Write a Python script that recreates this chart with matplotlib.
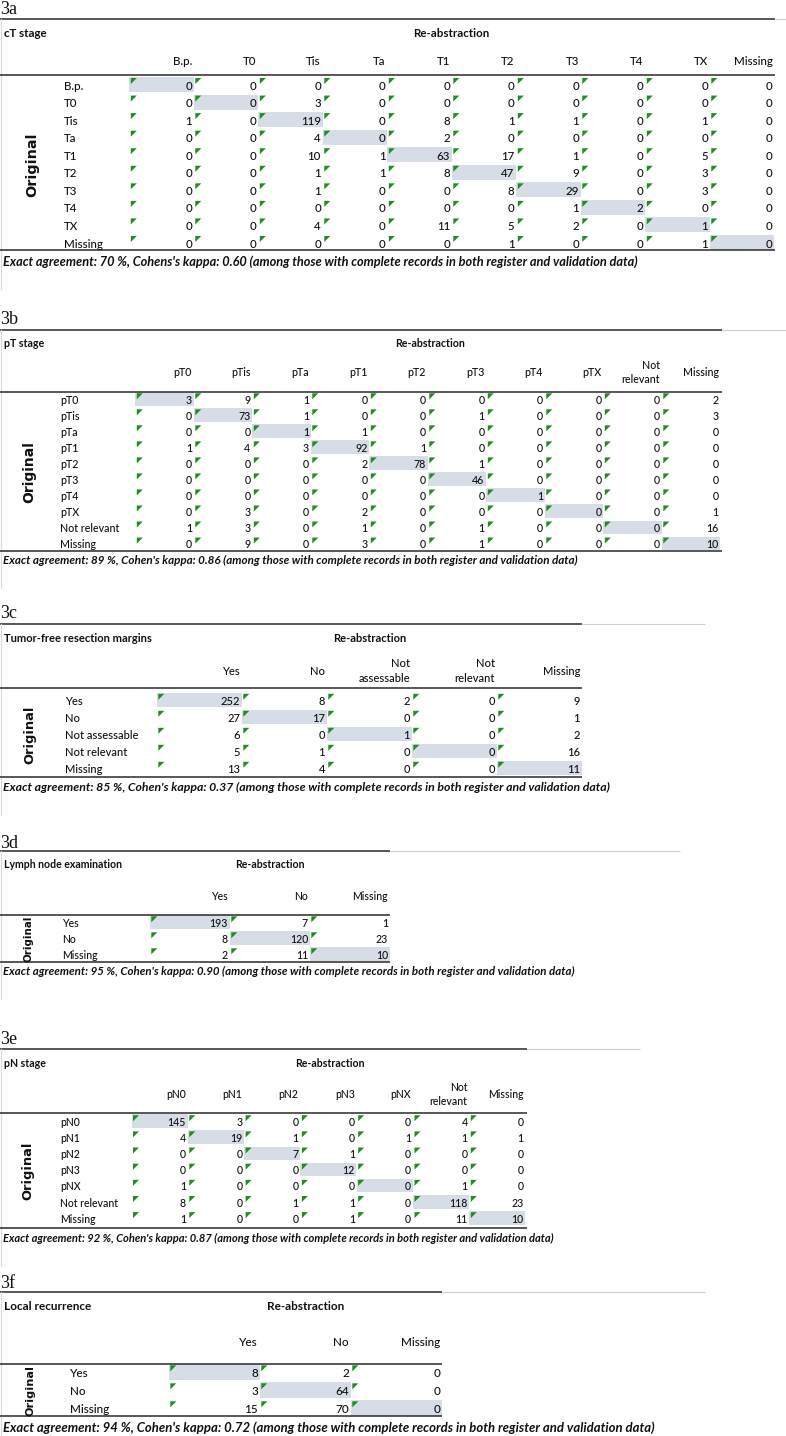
import matplotlib
matplotlib.use('Agg')
import matplotlib.pyplot as plt
from matplotlib.patches import Rectangle, Polygon

BODY = ['Lato', 'DejaVu Sans']
NOTE_FONT = ['Liberation Sans Narrow', 'Lato', 'DejaVu Sans']
SERIF = ['Liberation Serif', 'DejaVu Serif']
HILITE = '#d6dde6'
TRI = '#218c21'
INK = '#111111'
RULE = '#2a2a2a'

# ---- data: 3a cT stage
ct_cols = ['B.p.', 'T0', 'Tis', 'Ta', 'T1', 'T2', 'T3', 'T4', 'TX', 'Missing']
ct_rows = ['B.p.', 'T0', 'Tis', 'Ta', 'T1', 'T2', 'T3', 'T4', 'TX', 'Missing']
ct_vals = [
    [0, 0, 0, 0, 0, 0, 0, 0, 0, 0],
    [0, 0, 3, 0, 0, 0, 0, 0, 0, 0],
    [1, 0, 119, 0, 8, 1, 1, 0, 1, 0],
    [0, 0, 4, 0, 2, 0, 0, 0, 0, 0],
    [0, 0, 10, 1, 63, 17, 1, 0, 5, 0],
    [0, 0, 1, 1, 8, 47, 9, 0, 3, 0],
    [0, 0, 1, 0, 0, 8, 29, 0, 3, 0],
    [0, 0, 0, 0, 0, 0, 1, 2, 0, 0],
    [0, 0, 4, 0, 11, 5, 2, 0, 1, 0],
    [0, 0, 0, 0, 0, 1, 0, 0, 1, 0],
]
ct_note = "Exact agreement: 70 %, Cohens's kappa: 0.60 (among those with complete records in both register and validation data)"

# ---- 3b pT stage
pt_cols = ['pT0', 'pTis', 'pTa', 'pT1', 'pT2', 'pT3', 'pT4', 'pTX', 'Not\nrelevant', 'Missing']
pt_rows = ['pT0', 'pTis', 'pTa', 'pT1', 'pT2', 'pT3', 'pT4', 'pTX', 'Not relevant', 'Missing']
pt_vals = [
    [3, 9, 1, 0, 0, 0, 0, 0, 0, 2],
    [0, 73, 1, 0, 0, 1, 0, 0, 0, 3],
    [0, 0, 1, 1, 0, 0, 0, 0, 0, 0],
    [1, 4, 3, 92, 1, 0, 0, 0, 0, 0],
    [0, 0, 0, 2, 78, 1, 0, 0, 0, 0],
    [0, 0, 0, 0, 0, 46, 0, 0, 0, 0],
    [0, 0, 0, 0, 0, 0, 1, 0, 0, 0],
    [0, 3, 0, 2, 0, 0, 0, 0, 0, 1],
    [1, 3, 0, 1, 0, 1, 0, 0, 0, 16],
    [0, 9, 0, 3, 0, 1, 0, 0, 0, 10],
]
pt_note = "Exact agreement: 89 %, Cohen's kappa: 0.86 (among those with complete records in both register and validation data)"

# ---- 3c resection margins
rm_cols = ['Yes', 'No', 'Not\nassessable', 'Not\nrelevant', 'Missing']
rm_rows = ['Yes', 'No', 'Not assessable', 'Not relevant', 'Missing']
rm_vals = [
    [252, 8, 2, 0, 9],
    [27, 17, 0, 0, 1],
    [6, 0, 1, 0, 2],
    [5, 1, 0, 0, 16],
    [13, 4, 0, 0, 11],
]
rm_note = "Exact agreement: 85 %, Cohen's kappa: 0.37 (among those with complete records in both register and validation data)"

# ---- 3d lymph node examination
ln_cols = ['Yes', 'No', 'Missing']
ln_rows = ['Yes', 'No', 'Missing']
ln_vals = [
    [193, 7, 1],
    [8, 120, 23],
    [2, 11, 10],
]
ln_note = "Exact agreement: 95 %, Cohen's kappa: 0.90 (among those with complete records in both register and validation data)"

# ---- 3e pN stage
pn_cols = ['pN0', 'pN1', 'pN2', 'pN3', 'pNX', 'Not\nrelevant', 'Missing']
pn_rows = ['pN0', 'pN1', 'pN2', 'pN3', 'pNX', 'Not relevant', 'Missing']
pn_vals = [
    [145, 3, 0, 0, 0, 4, 0],
    [4, 19, 1, 0, 1, 1, 1],
    [0, 0, 7, 1, 0, 0, 0],
    [0, 0, 0, 12, 0, 0, 0],
    [1, 0, 0, 0, 0, 1, 0],
    [8, 0, 1, 1, 0, 118, 23],
    [1, 0, 0, 1, 0, 11, 10],
]
pn_note = "Exact agreement: 92 %, Cohen's kappa: 0.87 (among those with complete records in both register and validation data)"

# ---- 3f local recurrence
lr_cols = ['Yes', 'No', 'Missing']
lr_rows = ['Yes', 'No', 'Missing']
lr_vals = [
    [8, 2, 0],
    [3, 64, 0],
    [15, 70, 0],
]
lr_note = "Exact agreement: 94 %, Cohen's kappa: 0.72 (among those with complete records in both register and validation data)"

# layout of each panel in pixels (y grows downwards)
layouts = {
    '3a': dict(tag_y=10, top=18.5, title=33, reab_x=413, head=61, hline=74.5, row0=85.5, step=17.55,
               bottom=250, foot=261, col0=192, cstep=64.5, lab_x=64, orig_x=32, orig_len=64,
               dark_end=775, grey_end=786, fs=8.3, foot_w=637),
    '3b': dict(tag_y=320, top=330, title=343, reab_x=395, head=372, hline=391.5, row0=400, step=16.03,
               bottom=551, foot=560, col0=192, cstep=58.5, lab_x=60, orig_x=29, orig_len=62,
               dark_end=722, grey_end=786, fs=7.7, foot_w=578),
    '3c': dict(tag_y=614, top=624, title=638, reab_x=333, head=671, hline=688, row0=701, step=17,
               bottom=777, foot=787, col0=240, cstep=85, lab_x=65, orig_x=30, orig_len=58,
               dark_end=582, grey_end=705, fs=8.0, foot_w=604),
    '3d': dict(tag_y=843, top=851, title=864, reab_x=235, head=896, hline=915, row0=923, step=16,
               bottom=962, foot=971, col0=228, cstep=80, lab_x=62, orig_x=28, orig_len=46,
               dark_end=390, grey_end=680, fs=7.6, foot_w=571),
    '3e': dict(tag_y=1040, top=1049, title=1063, reab_x=295, head=1094, hline=1113, row0=1122, step=16.15,
               bottom=1228, foot=1238, col0=186, cstep=56.3, lab_x=60, orig_x=28, orig_len=58,
               dark_end=527, grey_end=640, fs=7.6, foot_w=554),
    '3f': dict(tag_y=1283, top=1292, title=1306, reab_x=267, head=1342, hline=1364, row0=1373, step=18,
               bottom=1416, foot=1427, col0=258, cstep=91, lab_x=70, orig_x=30, orig_len=50,
               dark_end=442, grey_end=705, fs=8.5, foot_w=648),
}

fig = plt.figure(figsize=(7.86, 14.36), dpi=100)
ax = fig.add_axes([0, 0, 1, 1])
ax.set_xlim(0, 786)
ax.set_ylim(1436, 0)
ax.axis('off')
renderer = fig.canvas.get_renderer()
PX = 100 / 72


def fit_size(s, width, **kw):
    t = ax.text(0, 0, s, fontsize=10, **kw)
    w = t.get_window_extent(renderer).width
    t.remove()
    return 10 * width / w


def put(x, y, s, fs, **kw):
    # y is the vertical middle of the capitals
    kw.setdefault('family', BODY)
    kw.setdefault('weight', 500)
    ax.text(x, y + 0.358 * fs * PX, s, fontsize=fs, va='baseline', color=INK, **kw)


def rule(y, x0, x1, color=RULE, lw=1.1):
    ax.plot([x0, x1], [y, y], color=color, lw=lw, solid_capstyle='butt')


def draw_panel(tag, title, cols, rows, vals, note, L):
    fs = L['fs']
    step = L['step']
    nfs = fit_size(note, L['foot_w'], family=NOTE_FONT, style='italic', weight='bold')
    ofs = fit_size('Original', L['orig_len'], family='DejaVu Sans', weight='bold')
    ax.text(0, L['tag_y'], tag, family=SERIF, fontsize=13, va='center', ha='left', color=INK)
    rule(L['top'], 0, L['dark_end'])
    rule(L['top'], L['dark_end'], L['grey_end'], color='#cfcfcf', lw=0.8)
    ax.plot([0.8, 0.8], [L['top'], L['foot'] + 28], color='#dadada', lw=0.8)
    put(4, L['title'], title, fs, weight='bold')
    put(L['reab_x'], L['title'], 'Re-abstraction', fs, weight='bold')
    for j, c in enumerate(cols):
        xr = L['col0'] + j * L['cstep']
        parts = c.split('\n')
        gap = 0.88 * step
        for k, p in enumerate(parts):
            yk = L['head'] + (k - (len(parts) - 1) / 2) * gap
            put(xr, yk, p, fs, ha='right')
    rule(L['hline'], 0, L['dark_end'])
    for i, r in enumerate(rows):
        y = L['row0'] + i * step
        top = y - step / 2 + 0.3
        put(L['lab_x'], y, r, fs, ha='left')
        for j, v in enumerate(vals[i]):
            xr = L['col0'] + j * L['cstep']
            xl = xr - L['cstep'] + 1.8
            if i == j:
                ax.add_patch(Rectangle((xl, top), L['cstep'] - 0.3, step - 2.6,
                                       facecolor=HILITE, edgecolor='none'))
            s = 6.0
            tx, tyy = xl + 1.5, top + 1.0
            ax.add_patch(Polygon([(tx, tyy), (tx + s, tyy), (tx, tyy + s)],
                                 closed=True, facecolor=TRI, edgecolor='none'))
            put(xr, y, str(v), fs, ha='right')
    rule(L['bottom'], 0, L['dark_end'])
    put(3, L['foot'], note, nfs, family=NOTE_FONT, style='italic', weight='bold')
    ymid = L['row0'] + (len(rows) - 1) * step / 2
    ax.text(L['orig_x'], ymid, 'Original', family='DejaVu Sans', weight='bold', fontsize=ofs,
            rotation=90, ha='center', va='center', color=INK)


draw_panel('3a', 'cT stage', ct_cols, ct_rows, ct_vals, ct_note, layouts['3a'])
draw_panel('3b', 'pT stage', pt_cols, pt_rows, pt_vals, pt_note, layouts['3b'])
draw_panel('3c', 'Tumor-free resection margins', rm_cols, rm_rows, rm_vals, rm_note, layouts['3c'])
draw_panel('3d', 'Lymph node examination', ln_cols, ln_rows, ln_vals, ln_note, layouts['3d'])
draw_panel('3e', 'pN stage', pn_cols, pn_rows, pn_vals, pn_note, layouts['3e'])
draw_panel('3f', 'Local recurrence', lr_cols, lr_rows, lr_vals, lr_note, layouts['3f'])

fig.savefig('out.png', dpi=100)
